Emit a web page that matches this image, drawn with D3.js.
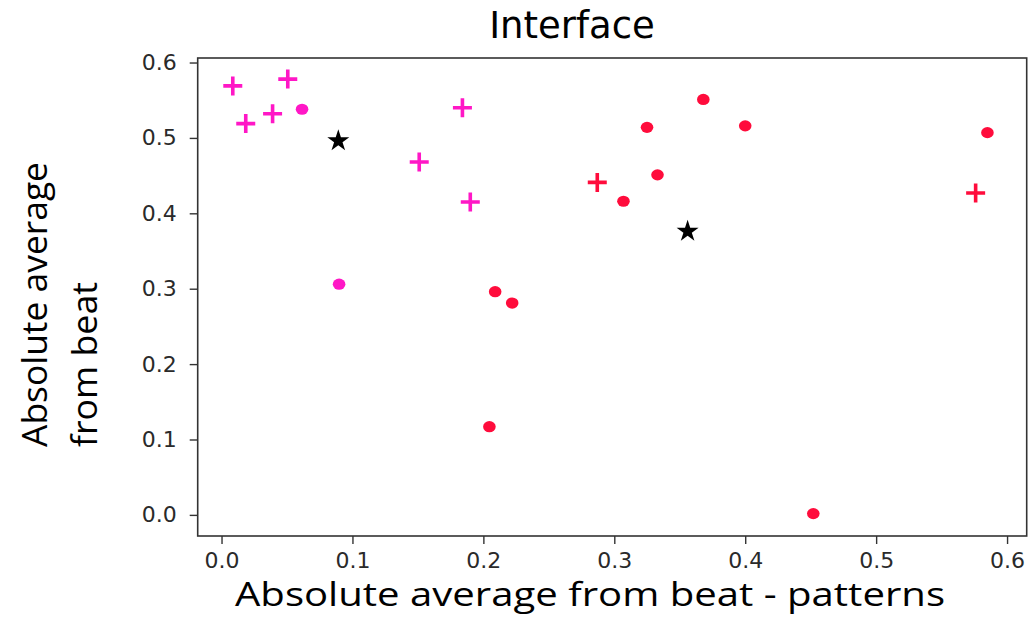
<!DOCTYPE html>
<html>
<head>
<meta charset="utf-8">
<script src="https://cdn.jsdelivr.net/npm/d3@7"></script>
<style>
  html, body { margin: 0; padding: 0; background: #fff; }
  svg { display: block; }
</style>
</head>
<body>
<svg id="chart" width="1031" height="617"></svg>
<script>
// Pattern group (magenta)
const patternPlusX = [0.0086, 0.0185, 0.039, 0.0506, 0.184, 0.151, 0.190];
const patternPlusY = [0.569, 0.519, 0.532, 0.578, 0.540, 0.468, 0.415];
const patternDotX = [0.0615, 0.0898];
const patternDotY = [0.538, 0.306];

// Beat group (red)
const beatPlusX = [0.287, 0.576];
const beatPlusY = [0.441, 0.427];
const beatDotX = [0.368, 0.325, 0.400, 0.333, 0.307, 0.585, 0.209, 0.222, 0.2046, 0.452];
const beatDotY = [0.551, 0.514, 0.516, 0.451, 0.416, 0.507, 0.296, 0.281, 0.117, 0.0017];

// Group centres (black stars)
const starX = [0.0892, 0.356];
const starY = [0.496, 0.376];

const tickValues = [0.0, 0.1, 0.2, 0.3, 0.4, 0.5, 0.6];

const titleText = "Interface";
const xLabel = "Absolute average from beat - patterns";
const yLabelLines = ["Absolute average", "from beat"];

const magenta = "#ff17c6";
const red = "#ff0c3c";

const svg = d3.select("#chart");
const plot = { left: 197.7, right: 1026.7, top: 58, bottom: 536 };

const x = d3.scaleLinear().domain([-0.0182, 0.615]).range([plot.left, plot.right]);
const y = d3.scaleLinear().domain([-0.028, 0.606]).range([plot.bottom, plot.top]);

const zip = (xs, ys) => xs.map((v, i) => ({ x: v, y: ys[i] }));

// Axes
const fmt = d3.format(".1f");
const xAxis = svg.append("g")
  .attr("transform", `translate(0,${plot.bottom})`)
  .call(d3.axisBottom(x).tickValues(tickValues).tickFormat(fmt).tickSize(8).tickPadding(8).tickSizeOuter(0));
const yAxis = svg.append("g")
  .attr("transform", `translate(${plot.left},0)`)
  .call(d3.axisLeft(y).tickValues(tickValues).tickFormat(fmt).tickSize(8).tickPadding(13).tickSizeOuter(0));

[xAxis, yAxis].forEach(g => {
  g.select(".domain").remove();
  g.selectAll(".tick line").attr("stroke", "#333").attr("stroke-width", 1.4);
  g.selectAll(".tick text")
    .attr("fill", "#2a2a2a")
    .style("font-family", "'DejaVu Sans', sans-serif")
    .style("font-size", "22px");
});

// Plot frame
svg.append("rect")
  .attr("x", plot.left).attr("y", plot.top)
  .attr("width", plot.right - plot.left).attr("height", plot.bottom - plot.top)
  .attr("fill", "none").attr("stroke", "#333").attr("stroke-width", 1.6);

const marks = svg.append("g");

function drawDots(data, color) {
  marks.selectAll(null).data(data).join("ellipse")
    .attr("cx", d => x(d.x)).attr("cy", d => y(d.y))
    .attr("rx", 6.3).attr("ry", 5.6)
    .attr("fill", color);
}

function drawPlus(data, color) {
  const arm = 9.5;
  marks.selectAll(null).data(data).join("path")
    .attr("d", d => {
      const cx = x(d.x), cy = y(d.y);
      return `M${cx - arm},${cy}H${cx + arm}M${cx},${cy - arm}V${cy + arm}`;
    })
    .attr("stroke", color).attr("stroke-width", 3.6).attr("fill", "none");
}

drawPlus(zip(patternPlusX, patternPlusY), magenta);
drawDots(zip(patternDotX, patternDotY), magenta);
drawPlus(zip(beatPlusX, beatPlusY), red);
drawDots(zip(beatDotX, beatDotY), red);

marks.selectAll(null).data(zip(starX, starY)).join("path")
  .attr("transform", d => `translate(${x(d.x)},${y(d.y)})`)
  .attr("d", d3.symbol(d3.symbolStar, 150))
  .attr("fill", "#000");

// Title
svg.append("text")
  .attr("x", 572).attr("y", 38)
  .attr("text-anchor", "middle")
  .style("font-family", "'DejaVu Sans', sans-serif")
  .style("font-size", "37px")
  .attr("fill", "#000")
  .text(titleText);

// X axis label
svg.append("text")
  .attr("x", 235).attr("y", 606)
  .attr("textLength", 710).attr("lengthAdjust", "spacingAndGlyphs")
  .style("font-family", "'Open Sans', sans-serif")
  .style("font-size", "33px")
  .attr("fill", "#000")
  .text(xLabel);

// Y axis label, two lines read bottom to top
const yLab = svg.append("g").attr("transform", "translate(0,447) rotate(-90)");
const yLens = [285, 165];
yLabelLines.forEach((line, i) => {
  yLab.append("text")
    .attr("x", 0).attr("y", 47 + i * 50)
    .attr("textLength", yLens[i]).attr("lengthAdjust", "spacingAndGlyphs")
    .style("font-family", "'Open Sans', sans-serif")
    .style("font-size", "34px")
    .attr("fill", "#000")
    .text(line);
});
</script>
</body>
</html>
